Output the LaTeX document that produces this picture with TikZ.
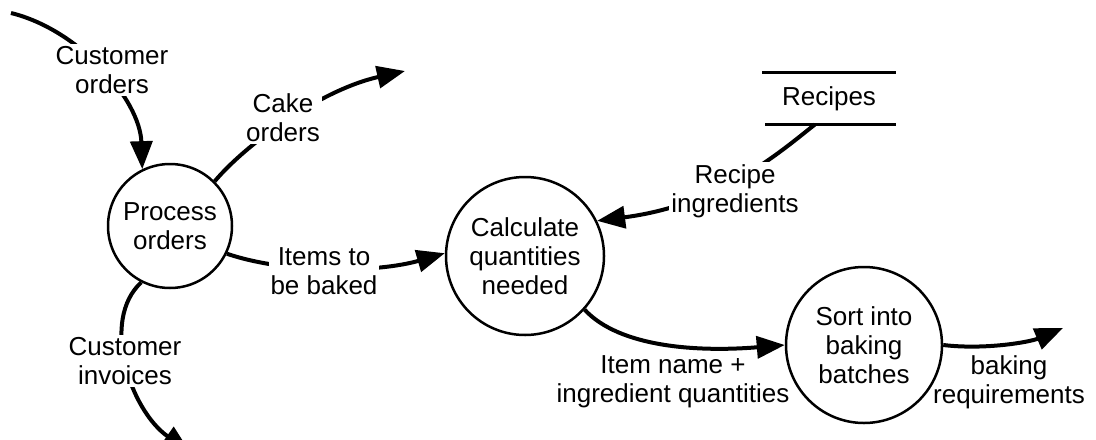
\documentclass[tikz,border=0pt]{standalone}
\usepackage{fontspec}
\setmainfont{Liberation Sans}
\usetikzlibrary{arrows.meta}
\begin{document}
\begin{tikzpicture}[x=0.5pt,y=-0.5pt,
  txt/.style={font=\fontsize{13}{14.5}\selectfont,align=center},
  proc/.style={txt,circle,draw,line width=1.25pt,minimum size=#1,inner sep=0pt},
  flow/.style={line width=2pt,-{Triangle[length=14pt,width=11pt]}},
  lbl/.style={txt,fill=white,inner sep=1pt},
  freelbl/.style={txt,inner sep=1pt},
  storeline/.style={line width=1.6pt}]
\useasboundingbox (0,0) rectangle (1096,439);
\clip (0,0) rectangle (1096,439);
% processes
\node[proc=62pt] (proc) at (170,226) {Process\\orders};
\node[proc=79pt] (calc) at (525,256) {Calculate\\quantities\\needed};
\node[proc=78pt] (sort) at (864,345) {Sort into\\baking\\batches};
% data store
\node[txt,inner sep=0pt,minimum width=66.5pt,minimum height=25.5pt] (recipes) at (829,98.5) {Recipes};
\draw[storeline] (recipes.north west) -- (recipes.north east);
\draw[storeline] ([xshift=1.5pt]recipes.south west) -- (recipes.south east);
% free ends
\coordinate (coIn) at (11,13);
\coordinate (cakeOut) at (405,71);
\coordinate (invOut) at (190,452);
\coordinate (bakeOut) at (1063,328);
% flows
\draw[flow] (coIn) .. controls (80,30) and (140,100) .. (proc.116);
\draw[flow] (proc.45) .. controls (245,145) and (320,90) .. (cakeOut);
\draw[flow] (proc.-26) .. controls (290,275) and (380,272) .. (calc.178);
\draw[flow] (proc.-117) .. controls (100,320) and (130,410) .. (invOut);
\draw[flow] ([xshift=-7pt]recipes.south) .. controls (780,152) and (720,205) .. (calc.26);
\draw[flow] (calc.-42) .. controls (620,348) and (700,352) .. (sort.west);
\draw[flow] (sort.east) .. controls (985,350) and (1030,342) .. (bakeOut);
% labels
\node[lbl] (lCO) at (112,70) {Customer\\orders};
\node[lbl] (lCake) at (283,118) {Cake\\orders};
\node[lbl] (lItems) at (324,271) {Items to\\be baked};
\node[lbl] (lInv) at (125,361) {Customer\\invoices};
\node[lbl] (lRec) at (735,191) {Recipe\\ingredients};
\node[freelbl] (lItemName) at (673,382) {Item name +\\ingredient quantities};
\node[freelbl] (lBake) at (1009,382) {baking\\requirements};
\end{tikzpicture}
\end{document}
